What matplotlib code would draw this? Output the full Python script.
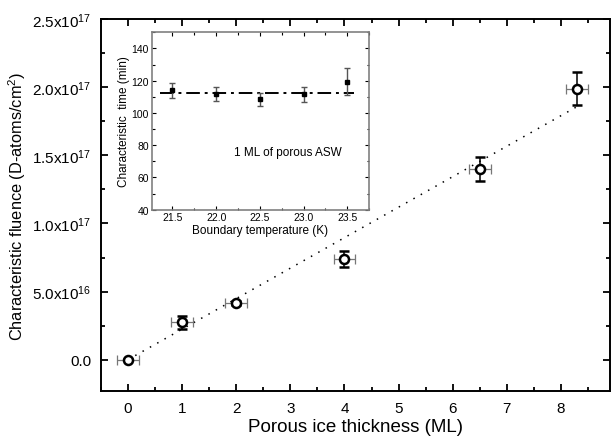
import numpy as np
import matplotlib
matplotlib.use("Agg")
import matplotlib.pyplot as plt
from matplotlib.ticker import MultipleLocator, FuncFormatter

plt.rcParams['font.family'] = ['Liberation Sans', 'DejaVu Sans']
plt.rcParams['mathtext.fontset'] = 'custom'
plt.rcParams['mathtext.rm'] = 'Liberation Sans'
plt.rcParams['mathtext.it'] = 'Liberation Sans'

# Characteristic fluence vs porous ice thickness
thickness = [0, 1, 2, 4, 6.5, 8.3]
thickness_err = [0.2, 0.2, 0.2, 0.2, 0.2, 0.2]
fluence = [0.0, 2.74e16, 4.16e16, 7.39e16, 1.40e17, 1.99e17]
fluence_err = [0.002e17, 0.045e17, 0.015e17, 0.062e17, 0.09e17, 0.12e17]
fit_slope = 2.24e16  # D-atoms/cm^2 per ML

# Inset: characteristic time vs boundary temperature (1 ML porous ASW)
temp = [21.5, 22.0, 22.5, 23.0, 23.5]
char_time = [114.0, 111.7, 108.4, 111.7, 119.4]
char_time_err = [4.4, 4.2, 4.3, 4.7, 8.4]
mean_time = 112.1

fig = plt.figure(figsize=(6.11, 4.39), dpi=100)
ax = fig.add_axes([0.165, 0.107, 0.833, 0.847])

xfit = np.array([0, 8.3])
ax.plot(xfit, fit_slope * xfit, linestyle=(0, (1, 4.5)), color='black', lw=1.1)

ax.errorbar(thickness, fluence, xerr=thickness_err, fmt='none',
            ecolor='#777777', elinewidth=0.9, capsize=3.5, capthick=0.9)
ax.errorbar(thickness, fluence, yerr=fluence_err, fmt='o', ms=6.5,
            mfc='white', mec='black', mew=1.8, ecolor='black',
            elinewidth=1.1, capsize=3.5, capthick=1.1)

ax.set_xlim(-0.5, 8.9)
ax.set_ylim(-0.23e17, 2.5e17)
ax.xaxis.set_major_locator(MultipleLocator(1))
ax.xaxis.set_minor_locator(MultipleLocator(0.5))
ax.yaxis.set_major_locator(MultipleLocator(0.5e17))
ax.yaxis.set_minor_locator(MultipleLocator(0.25e17))


def fluence_fmt(v, pos):
    if abs(v) < 1e10:
        return '0.0'
    exp = int(np.floor(np.log10(abs(v)) + 1e-9))
    mant = v / 10 ** exp
    return r'%.1fx10$^{%d}$' % (mant, exp)


ax.yaxis.set_major_formatter(FuncFormatter(fluence_fmt))
ax.tick_params(which='both', direction='in', top=True, right=True, width=1.3)
ax.tick_params(which='major', length=5, labelsize=11, pad=7)
ax.tick_params(which='minor', length=3)
for s in ax.spines.values():
    s.set_linewidth(1.4)
ax.set_xlabel('Porous ice thickness (ML)', fontsize=13.5, labelpad=2)
ax.set_ylabel('Characteristic fluence (D-atoms/cm$^{2}$)', fontsize=11.8, labelpad=3)

# inset panel
ins = fig.add_axes([0.248, 0.520, 0.356, 0.404])
ins.plot([21.36, 23.58], [mean_time, mean_time], color='black', lw=1.4,
         linestyle=(0, (7, 2.5, 1.5, 2.5)))
ins.errorbar(temp, char_time, yerr=char_time_err, fmt='s', ms=2.8,
             mfc='black', mec='black', ecolor='#555555', elinewidth=1.0,
             capsize=2.5, capthick=1.0)
ins.text(22.82, 75.6, '1 ML of porous ASW', fontsize=8.5, ha='center', va='center')
ins.set_xlim(21.26, 23.75)
ins.set_ylim(40, 150)
ins.xaxis.set_major_locator(MultipleLocator(0.5))
ins.xaxis.set_minor_locator(MultipleLocator(0.25))
ins.yaxis.set_major_locator(MultipleLocator(20))
ins.yaxis.set_minor_locator(MultipleLocator(10))
ins.xaxis.set_major_formatter(FuncFormatter(lambda v, p: '%.1f' % v))
ins.tick_params(which='both', direction='in', top=True, right=True,
                labelsize=7.5, width=0.8, pad=2)
ins.tick_params(which='major', length=3)
ins.tick_params(which='minor', length=1.8)
for s in ins.spines.values():
    s.set_color('#808080')
    s.set_linewidth(1.2)
ins.set_xlabel('Boundary temperature (K)', fontsize=8.5, labelpad=1)
ins.set_ylabel('Characteristic  time (min)', fontsize=8.5, labelpad=1)

fig.savefig('out.png', dpi=100)
